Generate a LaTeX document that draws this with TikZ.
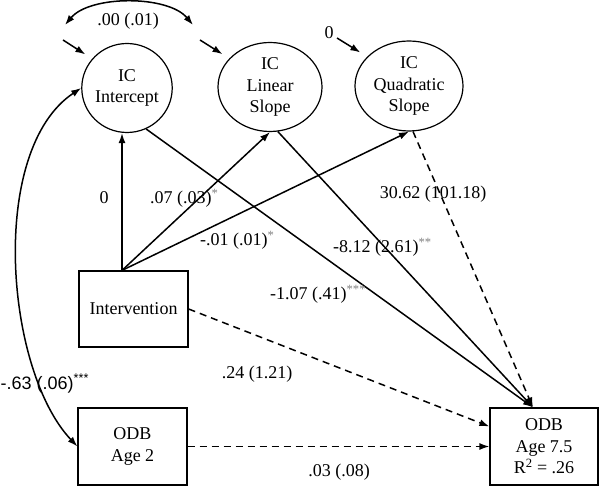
\documentclass[tikz,border=0pt]{standalone}
\usepackage{fontspec}
\setmainfont{Liberation Serif}
\newfontfamily\arialfont{Liberation Sans}
\usetikzlibrary{arrows.meta,shapes.geometric,calc}
\begin{document}
\begin{tikzpicture}[x=1pt,y=-1pt,
  font=\fontsize{18}{21.5}\selectfont,
  lat/.style={ellipse,draw,line width=1.2pt,inner sep=0pt,align=center},
  obs/.style={rectangle,draw,line width=1.2pt,inner sep=0pt,align=center},
  path/.style={line width=1.5pt,-{Latex[length=10pt,width=7pt]}},
  dpath/.style={path,dash pattern=on 7pt off 5pt},
  darr/.style={line width=1.5pt,{Latex[length=10pt,width=7pt]}-{Latex[length=10pt,width=7pt]}},
  lbl/.style={inner sep=0pt},
]
\useasboundingbox (0,0) rectangle (600,486);

% latent variables
\node[lat,minimum width=90pt,minimum height=89pt] (int) at (127,88) {IC\\Intercept};
\node[lat,minimum width=104pt,minimum height=89pt] (lin) at (270,87) {IC\\Linear\\Slope};
\node[lat,minimum width=108pt,minimum height=90pt] (quad) at (409,86) {IC\\Quadratic\\Slope};

% observed variables
\node[obs,minimum width=109pt,minimum height=76pt] (iv) at (133.5,309) {Intervention};
\node[obs,minimum width=109pt,minimum height=77pt] (odb2) at (132.5,446.5) {ODB\\Age 2};
\node[obs,minimum width=108pt,minimum height=77pt] (odb) at (544,446.5) {ODB\\Age 7.5\\R\textsuperscript{2} = .26};

\coordinate (ivT) at ([xshift=-11.5pt]iv.north);
\coordinate (odbT) at ([xshift=-11pt]odb.north);

% paths
\draw[path] (ivT) -- (ivT |- int.south);
\draw[path] (ivT) -- (lin.south);
\draw[path] (ivT) -- (quad.south);
\draw[path] (int.-65) -- (odbT);
\draw[path] (lin.-80) -- (odbT);
\draw[dpath] (quad.-85) -- (odbT);
\draw[dpath] (iv.east) -- ([yshift=20pt]odb.west);
\draw[dpath] (odb2.east) -- (odb2.east -| odb.west);

% covariance intercept - ODB age 2
\draw[darr] (int.west) .. controls (-12,150) and (5,370) .. (odb2.west);

% covariance intercept - linear slope residuals
\coordinate (c1) at (65,25);
\coordinate (c2) at (193,25);
\draw[darr] (c1) .. controls (90,-5) and (168,-5) .. (c2);

% residual arrows
\coordinate (e1) at (63,40);
\coordinate (e2) at (200,40);
\coordinate (e3) at (337,38);
\draw[path,shorten >=8pt] (e1) -- (int.140);
\draw[path,shorten >=8pt] (e2) -- (lin.145);
\draw[path,shorten >=8pt] (e3) -- (quad.145);

% labels
\node[lbl,anchor=base] at (329,39) {0};
\node[lbl,anchor=base] at (128,26) {.00 (.01)};
\node[lbl,anchor=base] at (104,204) {0};
\node[lbl,anchor=base west] at (150,204) {.07 (.03)\textsuperscript{\color{gray}*}};
\node[lbl,anchor=base west] at (200,246) {-.01 (.01)\textsuperscript{\color{gray}*}};
\node[lbl,anchor=base west] at (270,300) {-1.07 (.41)\textsuperscript{\color{gray}***}};
\node[lbl,anchor=base west] at (333,253) {-8.12 (2.61)\textsuperscript{\color{gray}**}};
\node[lbl,anchor=base] at (433,199) {30.62 (101.18)};
\node[lbl,anchor=base] at (257,379) {.24 (1.21)};
\node[lbl,anchor=base] at (339,476) {.03 (.08)};
\node[lbl,anchor=base west] at (0.5,389) {\arialfont -.63 (.06)\textsuperscript{***}};
\end{tikzpicture}
\end{document}
